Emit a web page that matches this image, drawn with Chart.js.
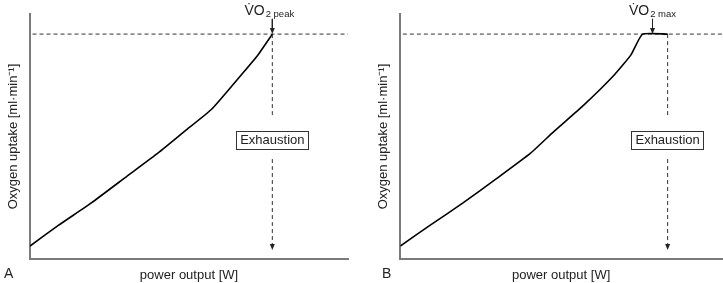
<!DOCTYPE html>
<html>
<head>
<meta charset="utf-8">
<script src="https://cdn.jsdelivr.net/npm/chart.js@4"></script>
<style>
  html, body { margin: 0; padding: 0; background: #fff; }
  #wrap { position: relative; width: 723px; height: 283px; }
  canvas { position: absolute; top: 0; }
  #chartA { left: 0; }
  #chartB { left: 362px; }
</style>
</head>
<body>
<div id="wrap">
  <canvas id="chartA" width="362" height="283"></canvas>
  <canvas id="chartB" width="361" height="283"></canvas>
</div>
<script>
/* VO2 peak (A) vs VO2 max plateau (B) — schematic, axes 0..100 without ticks */

// panel A: curve ends at the peak, no plateau
var powerA  = [0, 8.9, 19.4, 29.9, 40.4, 48.7, 57.1, 66.6, 71.8, 76.2];
var uptakeA = [5.3, 13.7, 23.0, 33.2, 43.4, 52.2, 61.1, 75.4, 83.5, 91.8];

// panel B: curve levels off (plateau) before exhaustion
var powerB  = [0, 9.2, 19.6, 30.0, 40.4, 47.7, 57.1, 66.5, 71.7, 75.3, 83.1];
var uptakeB = [5.3, 13.7, 23.0, 32.9, 43.1, 52.0, 62.9, 75.1, 83.3, 91.8, 91.8];

var vo2Level     = 91.8;          // dashed reference level
var exhaustionA  = 76.2;          // power at exhaustion
var exhaustionB  = 83.1;
var markerA      = 76.2;          // where the small arrow points
var markerB      = 78.4;
var markerTop    = 98.0;
var exUpperEnd   = 58.0;          // dashed line gap around the box
var exLowerStart = 40.8;
var exArrowTip   = 3.7;
var exBoxLevel   = 48.6;

var FONT = '"Liberation Sans", Arial, Helvetica, sans-serif';
var INK  = '#222';
var AXIS = '#7a7a7a';

function arrowDown(ctx, x, y) {
  ctx.beginPath();
  ctx.moveTo(x, y);
  ctx.lineTo(x - 2.5, y - 6);
  ctx.lineTo(x + 2.5, y - 6);
  ctx.closePath();
  ctx.fill();
}

var extras = {
  id: 'extras',
  afterDatasetsDraw: function(chart, args, opts) {
    var ctx = chart.ctx, xs = chart.scales.x, ys = chart.scales.y;
    ctx.save();
    ctx.fillStyle = INK;

    // arrowheads
    arrowDown(ctx, xs.getPixelForValue(opts.marker), ys.getPixelForValue(vo2Level));
    arrowDown(ctx, xs.getPixelForValue(opts.exhaust), ys.getPixelForValue(exArrowTip));

    // Exhaustion box
    var bx = xs.getPixelForValue(opts.exhaust);
    var by = ys.getPixelForValue(exBoxLevel);
    ctx.font = '13px ' + FONT;
    var w = ctx.measureText('Exhaustion').width + 8;
    var left = Math.round(bx - w / 2) + 0.5, top = Math.round(by - 9) + 0.5;
    ctx.fillStyle = '#fff';
    ctx.fillRect(left, top, Math.round(w), 18);
    ctx.strokeStyle = '#333';
    ctx.lineWidth = 1;
    ctx.strokeRect(left, top, Math.round(w), 18);
    ctx.fillStyle = INK;
    ctx.textAlign = 'center';
    ctx.textBaseline = 'middle';
    ctx.fillText('Exhaustion', bx, by + 0.5);

    // V̇O2 label above the marker arrow
    var mx = xs.getPixelForValue(opts.marker);
    ctx.textBaseline = 'alphabetic';
    ctx.textAlign = 'left';
    ctx.font = '14px ' + FONT;
    var main = 'V\u0307O';
    var mw = ctx.measureText(main).width;
    ctx.font = '9.5px ' + FONT;
    var sw = ctx.measureText(opts.sub).width;
    var x0 = mx - (mw + sw + 1) / 2 + opts.labelShift;
    ctx.font = '14px ' + FONT;
    ctx.fillText(main, x0, 15);
    ctx.font = '9.5px ' + FONT;
    ctx.fillText(opts.sub, x0 + mw + 1, 17);

    // panel letter
    ctx.font = '14px ' + FONT;
    ctx.fillText(opts.letter, opts.letterX, 278);
    ctx.restore();
  }
};

function makeChart(id, px, vo, ex, mk, sub, shift, letter, letterX, pad) {
  var curve = px.map(function(x, i) { return { x: x, y: vo[i] }; });
  var dash = { borderColor: '#333', borderWidth: 1, borderDash: [4, 3], pointRadius: 0, fill: false };
  return new Chart(document.getElementById(id), {
    type: 'line',
    data: {
      datasets: [
        { label: 'uptake', data: curve, borderColor: '#000', borderWidth: 1.6,
          pointRadius: 0, fill: false, tension: 0.15 },
        Object.assign({ label: 'level', data: [{ x: 0.8, y: vo2Level }, { x: 100.5, y: vo2Level }] }, dash),
        Object.assign({ label: 'exh1', data: [{ x: ex, y: vo2Level }, { x: ex, y: exUpperEnd }] }, dash),
        Object.assign({ label: 'exh2', data: [{ x: ex, y: exLowerStart }, { x: ex, y: exArrowTip + 2 }] }, dash),
        { label: 'marker', data: [{ x: mk, y: markerTop }, { x: mk, y: vo2Level + 2 }],
          borderColor: '#222', borderWidth: 1, pointRadius: 0, fill: false }
      ]
    },
    options: {
      responsive: false,
      devicePixelRatio: 1,
      animation: false,
      layout: { padding: pad },
      plugins: {
        legend: { display: false },
        tooltip: { enabled: false },
        extras: { marker: mk, exhaust: ex, sub: sub, labelShift: shift, letter: letter, letterX: letterX }
      },
      scales: {
        x: {
          type: 'linear', min: 0, max: 100,
          ticks: { display: false },
          grid: { display: false, drawTicks: false },
          border: { color: AXIS, width: 2 },
          title: { display: true, text: 'power output [W]', color: INK,
                   font: { family: FONT, size: 13 }, padding: { top: 8.4, bottom: 0 } }
        },
        y: {
          type: 'linear', min: 0, max: 100,
          ticks: { display: false },
          grid: { display: false, drawTicks: false },
          border: { color: AXIS, width: 2 },
          title: { display: true, text: 'Oxygen uptake [ml\u00b7min\u207b\u00b9]', color: INK,
                   font: { family: FONT, size: 13 }, padding: { top: 0, bottom: 9 } }
        }
      }
    },
    plugins: [extras]
  });
}

makeChart('chartA', powerA, uptakeA, exhaustionA, markerA, '2 peak', -3, 'A', 4,
          { left: 5.4, right: 14, top: 14, bottom: 0 });
makeChart('chartB', powerB, uptakeB, exhaustionB, markerB, '2 max', 0, 'B', 20,
          { left: 13.7, right: 1, top: 14, bottom: 0 });
</script>
</body>
</html>
